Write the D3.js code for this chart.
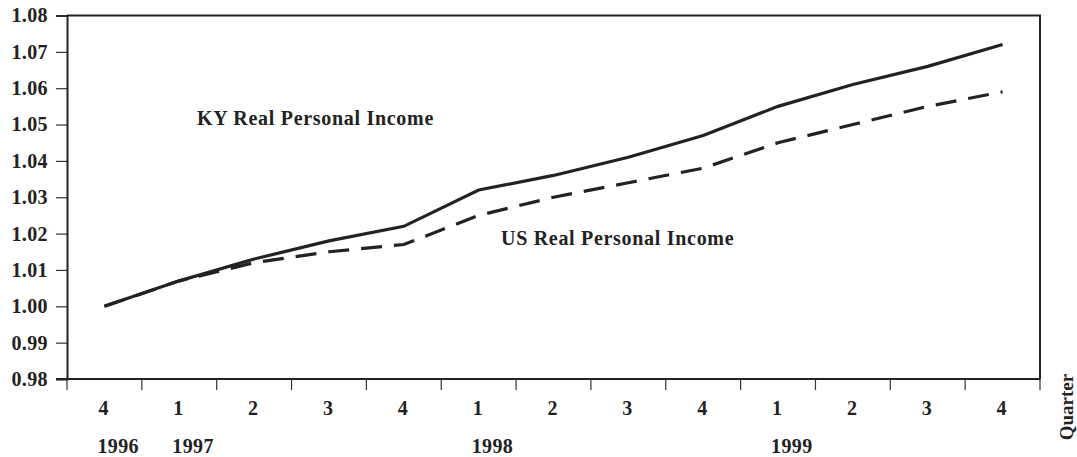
<!DOCTYPE html>
<html>
<head>
<meta charset="utf-8">
<script src="https://cdn.jsdelivr.net/npm/d3@7"></script>
<style>
  body { margin: 0; background: #fff; }
  svg text { font-family: "Times New Roman", "Liberation Serif", "DejaVu Serif", serif; font-weight: bold; fill: #222; }
</style>
</head>
<body>
<div id="chart"></div>
<script>
// Quarters on the x axis
var quarters = ["4", "1", "2", "3", "4", "1", "2", "3", "4", "1", "2", "3", "4"];
// Year labels: index of the quarter they sit under
var years = [{i: 0, label: "1996"}, {i: 1, label: "1997"}, {i: 5, label: "1998"}, {i: 9, label: "1999"}];
var yTicks = [0.98, 0.99, 1.00, 1.01, 1.02, 1.03, 1.04, 1.05, 1.06, 1.07, 1.08];

// Series values (index, 1996Q4 = 1.00)
var kyIncome = [1.000, 1.007, 1.013, 1.018, 1.022, 1.032, 1.036, 1.041, 1.047, 1.055, 1.061, 1.066, 1.072];
var usIncome = [1.000, 1.007, 1.012, 1.015, 1.017, 1.025, 1.030, 1.034, 1.038, 1.045, 1.050, 1.055, 1.059];

var width = 1077, height = 457;
var margin = {left: 67, right: 37, top: 15.5, bottom: 78};

var svg = d3.select("#chart").append("svg")
    .attr("width", width)
    .attr("height", height);

var x = d3.scaleBand()
    .domain(d3.range(quarters.length))
    .range([margin.left, width - margin.right])
    .padding(0);

var y = d3.scaleLinear()
    .domain([0.98, 1.08])
    .range([height - margin.bottom, margin.top]);

var bottom = height - margin.bottom;
var right = width - margin.right;

// Frame: top and right edges
svg.append("path")
    .attr("d", "M" + margin.left + "," + margin.top + "H" + right + "V" + bottom)
    .attr("fill", "none")
    .attr("stroke", "#222")
    .attr("stroke-width", 2);

// Y axis
var yAxis = svg.append("g")
    .attr("transform", "translate(" + margin.left + ",0)")
    .call(d3.axisLeft(y).tickValues(yTicks).tickFormat(d3.format(".2f")).tickSize(11).tickPadding(8));
yAxis.attr("font-family", null);
yAxis.select(".domain").attr("stroke", "#222").attr("stroke-width", 2);
yAxis.selectAll(".tick line").attr("stroke", "#333").attr("stroke-width", 1.2);
yAxis.selectAll("text").style("font-size", "20px").style("letter-spacing", "0.4px").attr("fill", "#222");

// X axis line
svg.append("line")
    .attr("x1", margin.left - 11).attr("x2", right)
    .attr("y1", bottom).attr("y2", bottom)
    .attr("stroke", "#222")
    .attr("stroke-width", 2);

// X ticks at band boundaries
var bounds = d3.range(quarters.length).map(function(i) { return x(i); }).concat([right]);
svg.append("g").selectAll("line")
    .data(bounds)
    .enter()
    .append("line")
    .attr("x1", function(d) { return d; })
    .attr("x2", function(d) { return d; })
    .attr("y1", bottom)
    .attr("y2", bottom + 11)
    .attr("stroke", "#333")
    .attr("stroke-width", 1.2);

// Quarter labels
svg.append("g").selectAll("text")
    .data(quarters)
    .enter()
    .append("text")
    .attr("x", function(d, i) { return x(i) + x.bandwidth() / 2 - 1; })
    .attr("y", bottom + 36)
    .attr("text-anchor", "middle")
    .style("font-size", "20px")
    .text(function(d) { return d; });

// Year labels
svg.append("g").selectAll("text")
    .data(years)
    .enter()
    .append("text")
    .attr("x", function(d) { return x(d.i) + x.bandwidth() / 2 - 7; })
    .attr("y", bottom + 74)
    .attr("text-anchor", "start")
    .style("font-size", "20px")
    .style("letter-spacing", "0.4px")
    .text(function(d) { return d.label; });

// "Quarter" axis title
svg.append("text")
    .attr("transform", "translate(1073,407) rotate(-90)")
    .attr("text-anchor", "middle")
    .style("font-size", "19px")
    .text("Quarter");

// Lines
var line = d3.line()
    .x(function(d, i) { return x(i) + x.bandwidth() / 2; })
    .y(function(d) { return y(d); });

svg.append("path")
    .datum(usIncome)
    .attr("d", line)
    .attr("fill", "none")
    .attr("stroke", "#222")
    .attr("stroke-width", 3.2)
    .attr("stroke-dasharray", "21,12");

svg.append("path")
    .datum(kyIncome)
    .attr("d", line)
    .attr("fill", "none")
    .attr("stroke", "#222")
    .attr("stroke-width", 3.2);

// Series labels
svg.append("text")
    .attr("x", 197)
    .attr("y", 125)
    .style("font-size", "20px")
    .style("letter-spacing", "0.7px")
    .text("KY Real Personal Income");

svg.append("text")
    .attr("x", 501)
    .attr("y", 245)
    .style("font-size", "20px")
    .style("letter-spacing", "0.7px")
    .text("US Real Personal Income");
</script>
</body>
</html>
